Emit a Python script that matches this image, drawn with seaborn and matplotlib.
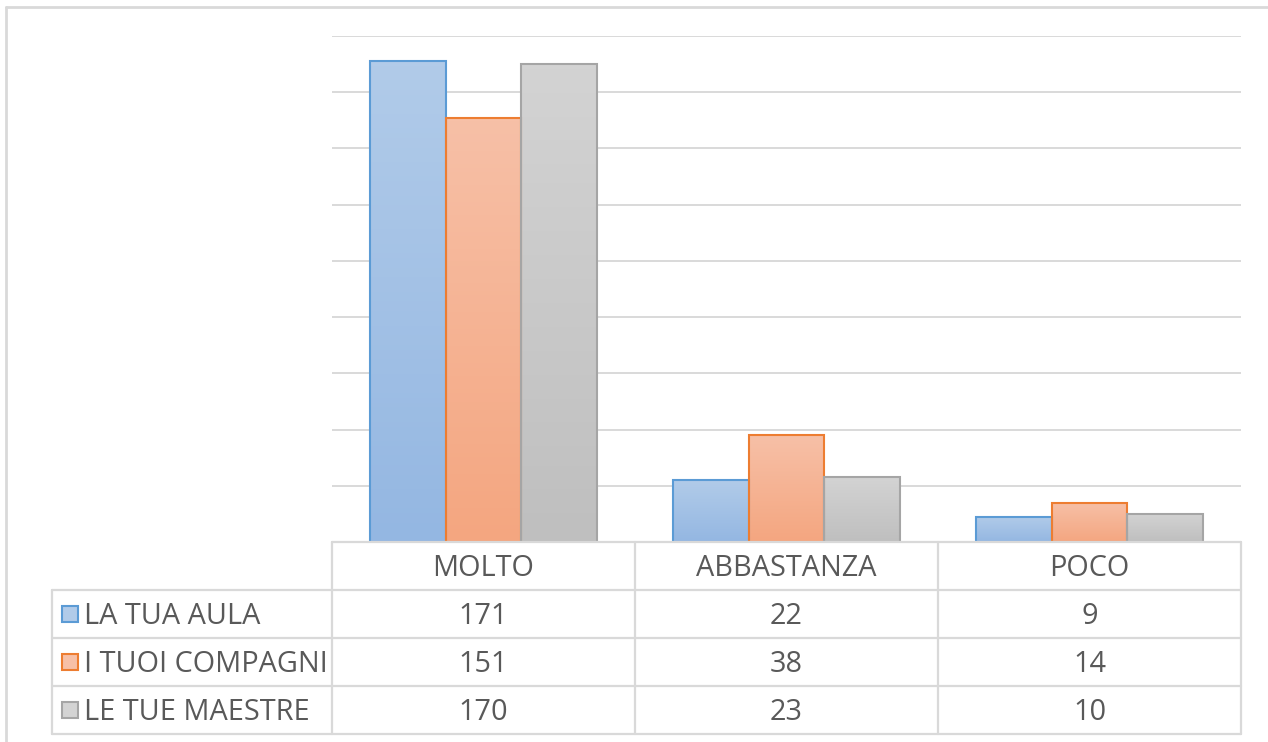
import numpy as np
import pandas as pd
import matplotlib.pyplot as plt
import seaborn as sns
from matplotlib.colors import LinearSegmentedColormap
from matplotlib.lines import Line2D
from matplotlib.patches import Rectangle

categorie = ['MOLTO', 'ABBASTANZA', 'POCO']
serie = ['LA TUA AULA', 'I TUOI COMPAGNI', 'LE TUE MAESTRE']
aula = [171, 22, 9]
compagni = [151, 38, 14]
maestre = [170, 23, 10]

bordi = ['#5b9bd5', '#ed7d31', '#a5a5a5']
chiari = ['#b1cbe9', '#f7c0a7', '#d3d3d3']
scuri = ['#94b7e2', '#f4a680', '#bfbfbf']

data = pd.DataFrame({
    'Categoria': categorie * 3,
    'Serie': [s for s in serie for _ in categorie],
    'Valore': aula + compagni + maestre,
})

W, H = 1268, 742
grigio = '#d9d9d9'
testo = '#595959'

sns.set_style('white')
plt.rcParams['font.family'] = ['Open Sans', 'DejaVu Sans']

fig = plt.figure(figsize=(W / 100, H / 100), dpi=100)

def fx(x):
    return x / W

def fy(y):
    return 1 - y / H

# area del grafico (pixel)
left, right, top, bottom = 332, 1241, 36, 542
ax = fig.add_axes([fx(left), fy(bottom), fx(right - left), (bottom - top) / H])

sns.barplot(data=data, x='Categoria', y='Valore', hue='Serie', order=categorie,
            hue_order=serie, palette=chiari, width=0.75, saturation=1,
            ax=ax, legend=False, zorder=3)

ax.set_ylim(0, 180)
ax.set_xlim(-0.5, 2.5)
ax.set_yticks(np.arange(0, 181, 20))
ax.yaxis.grid(True, color=grigio, linewidth=1.4)
ax.set_axisbelow(True)
ax.set_yticklabels([])
ax.set_xticks([])
ax.set_xlabel('')
ax.set_ylabel('')
ax.tick_params(length=0)
for s in ax.spines.values():
    s.set_visible(False)

# sfumatura verticale delle barre
grad = np.linspace(1, 0, 100).reshape(-1, 1)
barre = [p for p in ax.patches if p.get_height() > 0]
for i, p in enumerate(barre):
    k = i // len(categorie)
    cmap = LinearSegmentedColormap.from_list('g', [scuri[k], chiari[k]])
    x0, w, h = p.get_x(), p.get_width(), p.get_height()
    im = ax.imshow(grad, extent=[x0, x0 + w, 0, h], aspect='auto', cmap=cmap,
                   zorder=3, origin='upper')
    im.set_clip_path(p)
    p.set_facecolor('none')
    p.set_edgecolor(bordi[k])
    p.set_linewidth(1.5)
    p.set_zorder(4)
ax.set_xlim(-0.5, 2.5)
ax.set_ylim(0, 180)

# tabella dati
def linea(x0, y0, x1, y1, lw=1.6):
    fig.add_artist(Line2D([fx(x0), fx(x1)], [fy(y0), fy(y1)], color=grigio,
                          linewidth=lw, transform=fig.transFigure))

righe = [542, 590, 638, 686, 734]
tab_left = 52
linea(left, righe[0], right, righe[0])
for y in righe[1:]:
    linea(tab_left, y, right, y)
colonne = [left + (right - left) * j / 3 for j in range(4)]
for x in colonne:
    linea(x, righe[0], x, righe[-1])
linea(tab_left, righe[1], tab_left, righe[-1])

# cornice esterna
linea(6, 7, W, 7, lw=2)
linea(6, 7, 6, H, lw=2)

centri = [(colonne[j] + colonne[j + 1]) / 2 for j in range(3)]
fs = 20.8
for j, c in enumerate(categorie):
    fig.text(fx(centri[j]), fy((righe[0] + righe[1]) / 2 + 2), c, ha='center',
             va='center', color=testo, fontsize=fs)

valori = [aula, compagni, maestre]
for i, s in enumerate(serie):
    yc = (righe[i + 1] + righe[i + 2]) / 2
    fig.add_artist(Rectangle((fx(62), fy(yc + 8)), fx(16), 16 / H,
                             facecolor=chiari[i], edgecolor=bordi[i],
                             linewidth=1.5, transform=fig.transFigure))
    fig.text(fx(84), fy(yc + 2), s, ha='left', va='center', color=testo, fontsize=fs)
    for j in range(3):
        fig.text(fx(centri[j]), fy(yc + 2), str(valori[i][j]), ha='center',
                 va='center', color=testo, fontsize=fs)

fig.savefig('out.png', dpi=100)
